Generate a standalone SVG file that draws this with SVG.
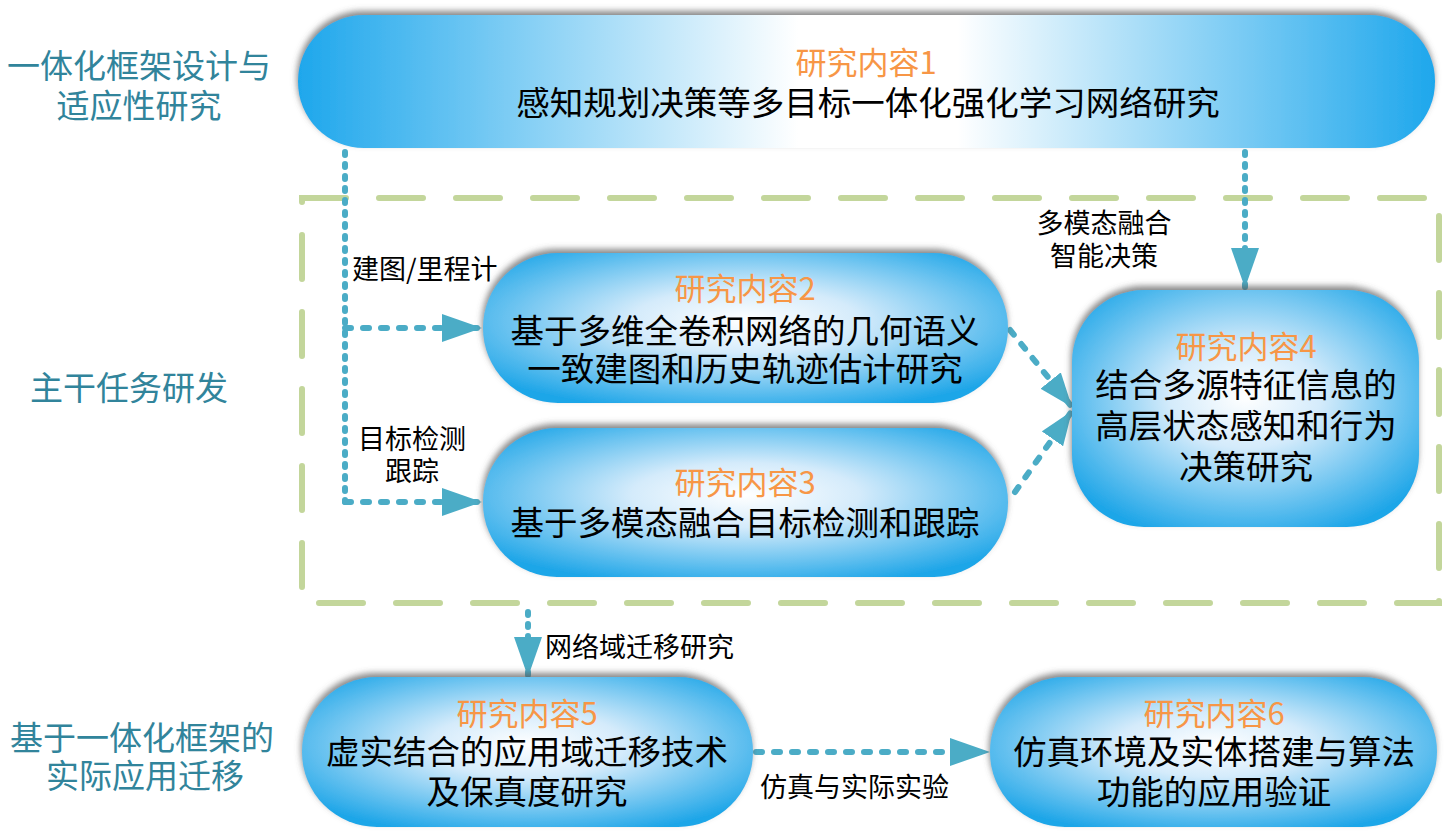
<svg xmlns="http://www.w3.org/2000/svg" width="1454" height="832" viewBox="0 0 1454 832">
<style>
  text { font-family: "Noto Sans CJK SC", "Noto Sans", sans-serif; }
  .title { font-size: 31px; fill: #f79646; text-anchor: middle; }
  .main { font-size: 33.5px; fill: #000; text-anchor: middle; }
  .side { font-size: 33px; fill: #31849b; text-anchor: middle; }
  .lbl { font-size: 27px; fill: #000; }
  .dot { fill: none; stroke: #4bacc6; stroke-width: 6; stroke-linecap: round; stroke-dasharray: 3 9; }
  .dash { fill: none; stroke: #4bacc6; stroke-width: 6; stroke-linecap: round; stroke-dasharray: 6 12; }
  .frame { fill: none; stroke: #c3d69b; stroke-width: 6; stroke-linecap: round; stroke-dasharray: 44 33; }
</style>
<defs>
  <linearGradient id="gTop" x1="0" y1="0" x2="1" y2="0">
    <stop offset="0" stop-color="#1ea7ec"/>
    <stop offset="0.44" stop-color="#ffffff"/>
    <stop offset="0.58" stop-color="#ffffff"/>
    <stop offset="1" stop-color="#1ea7ec"/>
  </linearGradient>
  <radialGradient id="gRad" cx="0.5" cy="0.45" r="0.62">
    <stop offset="0" stop-color="#ffffff"/>
    <stop offset="0.35" stop-color="#d4ebfb"/>
    <stop offset="1" stop-color="#1fa6e8"/>
  </radialGradient>
  <filter id="sh" x="-10%" y="-20%" width="120%" height="140%">
    <feGaussianBlur in="SourceAlpha" stdDeviation="3"/>
    <feOffset dx="-1" dy="-4" result="b"/>
    <feFlood flood-color="#555555" flood-opacity="0.7"/>
    <feComposite in2="b" operator="in"/>
    <feMerge><feMergeNode/><feMergeNode in="SourceGraphic"/></feMerge>
  </filter>
  <marker id="ah" markerUnits="userSpaceOnUse" markerWidth="40" markerHeight="28" refX="40" refY="14" orient="auto">
    <path d="M0,0 L40,14 L0,28 Z" fill="#4bacc6"/>
  </marker>
  <marker id="ahs" markerUnits="userSpaceOnUse" markerWidth="34" markerHeight="26" refX="34" refY="13" orient="auto">
    <path d="M0,0 L34,13 L0,26 Z" fill="#4bacc6"/>
  </marker>
</defs>

<rect id="frame" class="frame" x="302" y="198" width="1137" height="405"/>

<g id="side-labels">
  <text class="side" x="139" y="78">一体化框架设计与</text>
  <text class="side" x="139" y="118">适应性研究</text>
  <text class="side" x="129" y="400">主干任务研发</text>
  <text class="side" x="142" y="750">基于一体化框架的</text>
  <text class="side" x="145" y="788">实际应用迁移</text>
</g>

<g id="connectors">
  <path class="dot" d="M345,152 V502"/>
  <path class="dash" d="M345,502 H482" marker-end="url(#ah)"/>
  <path class="dash" d="M345,328 H482" marker-end="url(#ah)"/>
  <path class="dot" d="M1245,152 V288" marker-end="url(#ah)"/>
  <path class="dash" d="M1010,330 L1072,407" marker-end="url(#ahs)"/>
  <path class="dash" d="M1015,492 L1072,411" marker-end="url(#ahs)"/>
  <path class="dot" d="M528,612 V677" marker-end="url(#ah)"/>
  <path class="dash" d="M756,752 H990" marker-end="url(#ah)"/>
  <text class="lbl" x="352" y="279">建图/里程计</text>
  <text class="lbl" x="412" y="449" text-anchor="middle">目标检测</text>
  <text class="lbl" x="412" y="481" text-anchor="middle">跟踪</text>
  <text class="lbl" x="1104" y="233" text-anchor="middle">多模态融合</text>
  <text class="lbl" x="1104" y="266" text-anchor="middle">智能决策</text>
  <text class="lbl" x="545" y="657">网络域迁移研究</text>
  <text class="lbl" x="760" y="797">仿真与实际实验</text>
</g>

<g id="node1">
  <rect x="298" y="15" width="1137" height="133" rx="66" fill="url(#gTop)" filter="url(#sh)"/>
  <text class="title" x="866" y="74">研究内容1</text>
  <text class="main" x="868" y="115">感知规划决策等多目标一体化强化学习网络研究</text>
</g>

<g id="node2">
  <rect x="483" y="253" width="525" height="150" rx="75" fill="url(#gRad)" filter="url(#sh)"/>
  <text class="title" x="745" y="300">研究内容2</text>
  <text class="main" x="745" y="343">基于多维全卷积网络的几何语义</text>
  <text class="main" x="745" y="381">一致建图和历史轨迹估计研究</text>
</g>

<g id="node3">
  <rect x="483" y="428" width="525" height="149" rx="74" fill="url(#gRad)" filter="url(#sh)"/>
  <text class="title" x="745" y="494">研究内容3</text>
  <text class="main" x="745" y="535">基于多模态融合目标检测和跟踪</text>
</g>

<g id="node4">
  <rect x="1072" y="290" width="347" height="237" rx="72" fill="url(#gRad)" filter="url(#sh)"/>
  <text class="title" x="1246" y="358">研究内容4</text>
  <text class="main" x="1246" y="397">结合多源特征信息的</text>
  <text class="main" x="1246" y="438">高层状态感知和行为</text>
  <text class="main" x="1246" y="479">决策研究</text>
</g>

<g id="node5">
  <rect x="302" y="677" width="451" height="150" rx="75" fill="url(#gRad)" filter="url(#sh)"/>
  <text class="title" x="527" y="725">研究内容5</text>
  <text class="main" x="527" y="764">虚实结合的应用域迁移技术</text>
  <text class="main" x="527" y="804">及保真度研究</text>
</g>

<g id="node6">
  <rect x="990" y="677" width="447" height="150" rx="75" fill="url(#gRad)" filter="url(#sh)"/>
  <text class="title" x="1214" y="725">研究内容6</text>
  <text class="main" x="1214" y="764">仿真环境及实体搭建与算法</text>
  <text class="main" x="1214" y="804">功能的应用验证</text>
</g>
</svg>
